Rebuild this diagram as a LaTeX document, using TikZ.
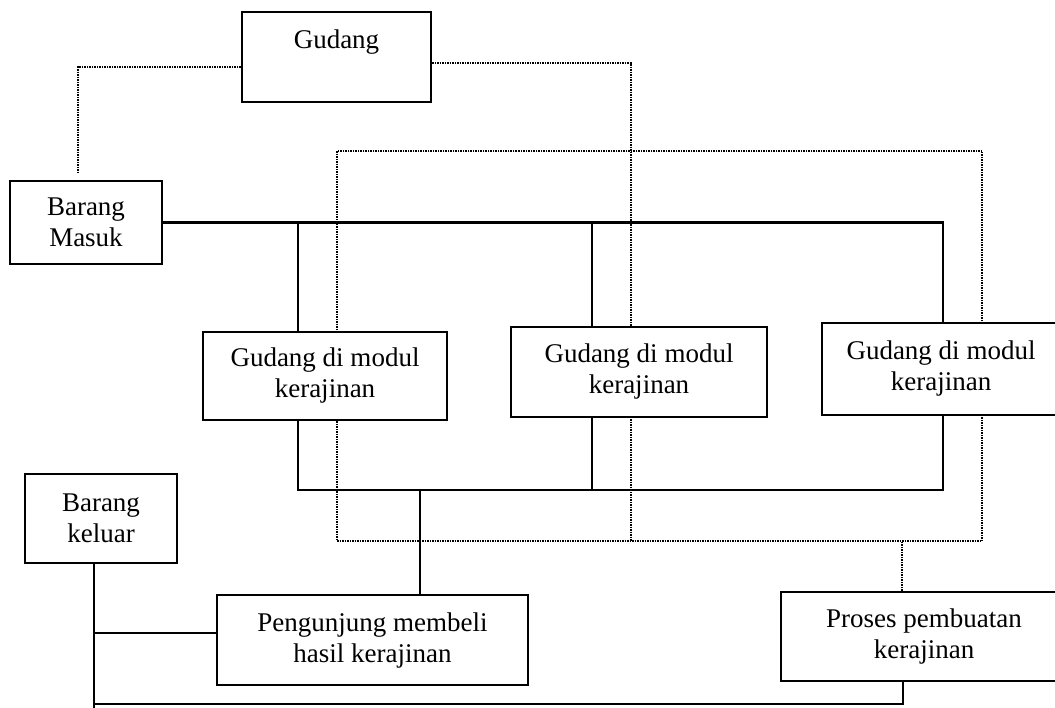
\documentclass[tikz,border=0pt]{standalone}
\usepackage{fontspec}
\setmainfont{Liberation Serif}
\usetikzlibrary{backgrounds}

\begin{document}
\begin{tikzpicture}[
  x=1pt, y=-1pt,
  unit/.style={draw, line width=2.2pt, fill=white, inner sep=0pt, align=center,
    font=\fontsize{27}{31}\selectfont},
  link/.style={line width=2.2pt},
  trace/.style={densely dotted, line width=1.5pt}]
  \useasboundingbox (0,0) rectangle (1055,707);

  % main store and incoming goods
  \node[unit, minimum width=189pt, text height=36pt, text depth=54pt] (gudang) at (336.5,57) {Gudang};
  \node[unit, minimum width=152pt, minimum height=83pt] (masuk) at (86,222.5) {Barang\\Masuk};

  % the three module stores
  \node[unit, minimum width=244pt, minimum height=88pt] (modA) at (325,376) {Gudang di modul\\kerajinan};
  \node[unit, minimum width=256pt, minimum height=90pt] (modB) at (639,372) {Gudang di modul\\kerajinan};
  \node[unit, minimum width=238pt, minimum height=92pt] (modC) at (941,369) {Gudang di modul\\kerajinan};

  % outgoing side
  \node[unit, minimum width=152pt, minimum height=89pt] (keluar) at (101,518.5) {Barang\\keluar};
  \node[unit, minimum width=311pt, minimum height=90pt] (beli) at (372.5,640) {Pengunjung membeli\\hasil kerajinan};
  \node[unit, minimum width=286pt, minimum height=89pt] (proses) at (924,636.5) {Proses pembuatan\\kerajinan};

  \begin{scope}[on background layer]
    % dotted traces
    \coordinate (loopNW) at (337,151);
    \coordinate (loopSE) at (982,541);
    \draw[trace] (loopNW) rectangle (loopSE);
    \draw[trace] ([yshift=-10pt]gudang.west) -| ([xshift=-8pt,yshift=6pt]masuk.north);
    \coordinate (gdrop) at (631,541);
    \draw[trace] ([yshift=-6pt]gudang.east) -| (gdrop);
    \coordinate (ptop) at ([xshift=-22pt]proses.north);
    \draw[trace] (ptop) -- (ptop |- loopSE);

    % solid lines, top rail
    \coordinate (tapA) at ([xshift=-27pt]modA.north);
    \coordinate (tapB) at ([xshift=-47pt]modB.north);
    \coordinate (tapC) at ([xshift=2pt]modC.north);
    \draw[link] (masuk.east) -| (tapC);
    \draw[link] (tapA) -- (tapA |- masuk.east);
    \draw[link] (tapB) -- (tapB |- masuk.east);

    % lower rail
    \coordinate (hub) at (420,490);
    \coordinate (outA) at ([xshift=-27pt]modA.south);
    \coordinate (outB) at ([xshift=-47pt]modB.south);
    \coordinate (outC) at ([xshift=2pt]modC.south);
    \draw[link] (outA) |- (hub) -| (outC);
    \draw[link] (outB) -- (outB |- hub);
    \draw[link] (hub) -- (hub |- beli.north);

    % exit side
    \coordinate (exit) at ([xshift=-7pt]keluar.south);
    \coordinate (floor) at (0,704);
    \coordinate (buy) at ([yshift=7pt]beli.west);
    \coordinate (pout) at ([xshift=-21pt]proses.south);
    \draw[link] (exit) -- ++(0,144);
    \draw[link] (buy) -- (buy -| exit);
    \draw[link] (pout) |- (exit |- floor);
  \end{scope}
\end{tikzpicture}
\end{document}
